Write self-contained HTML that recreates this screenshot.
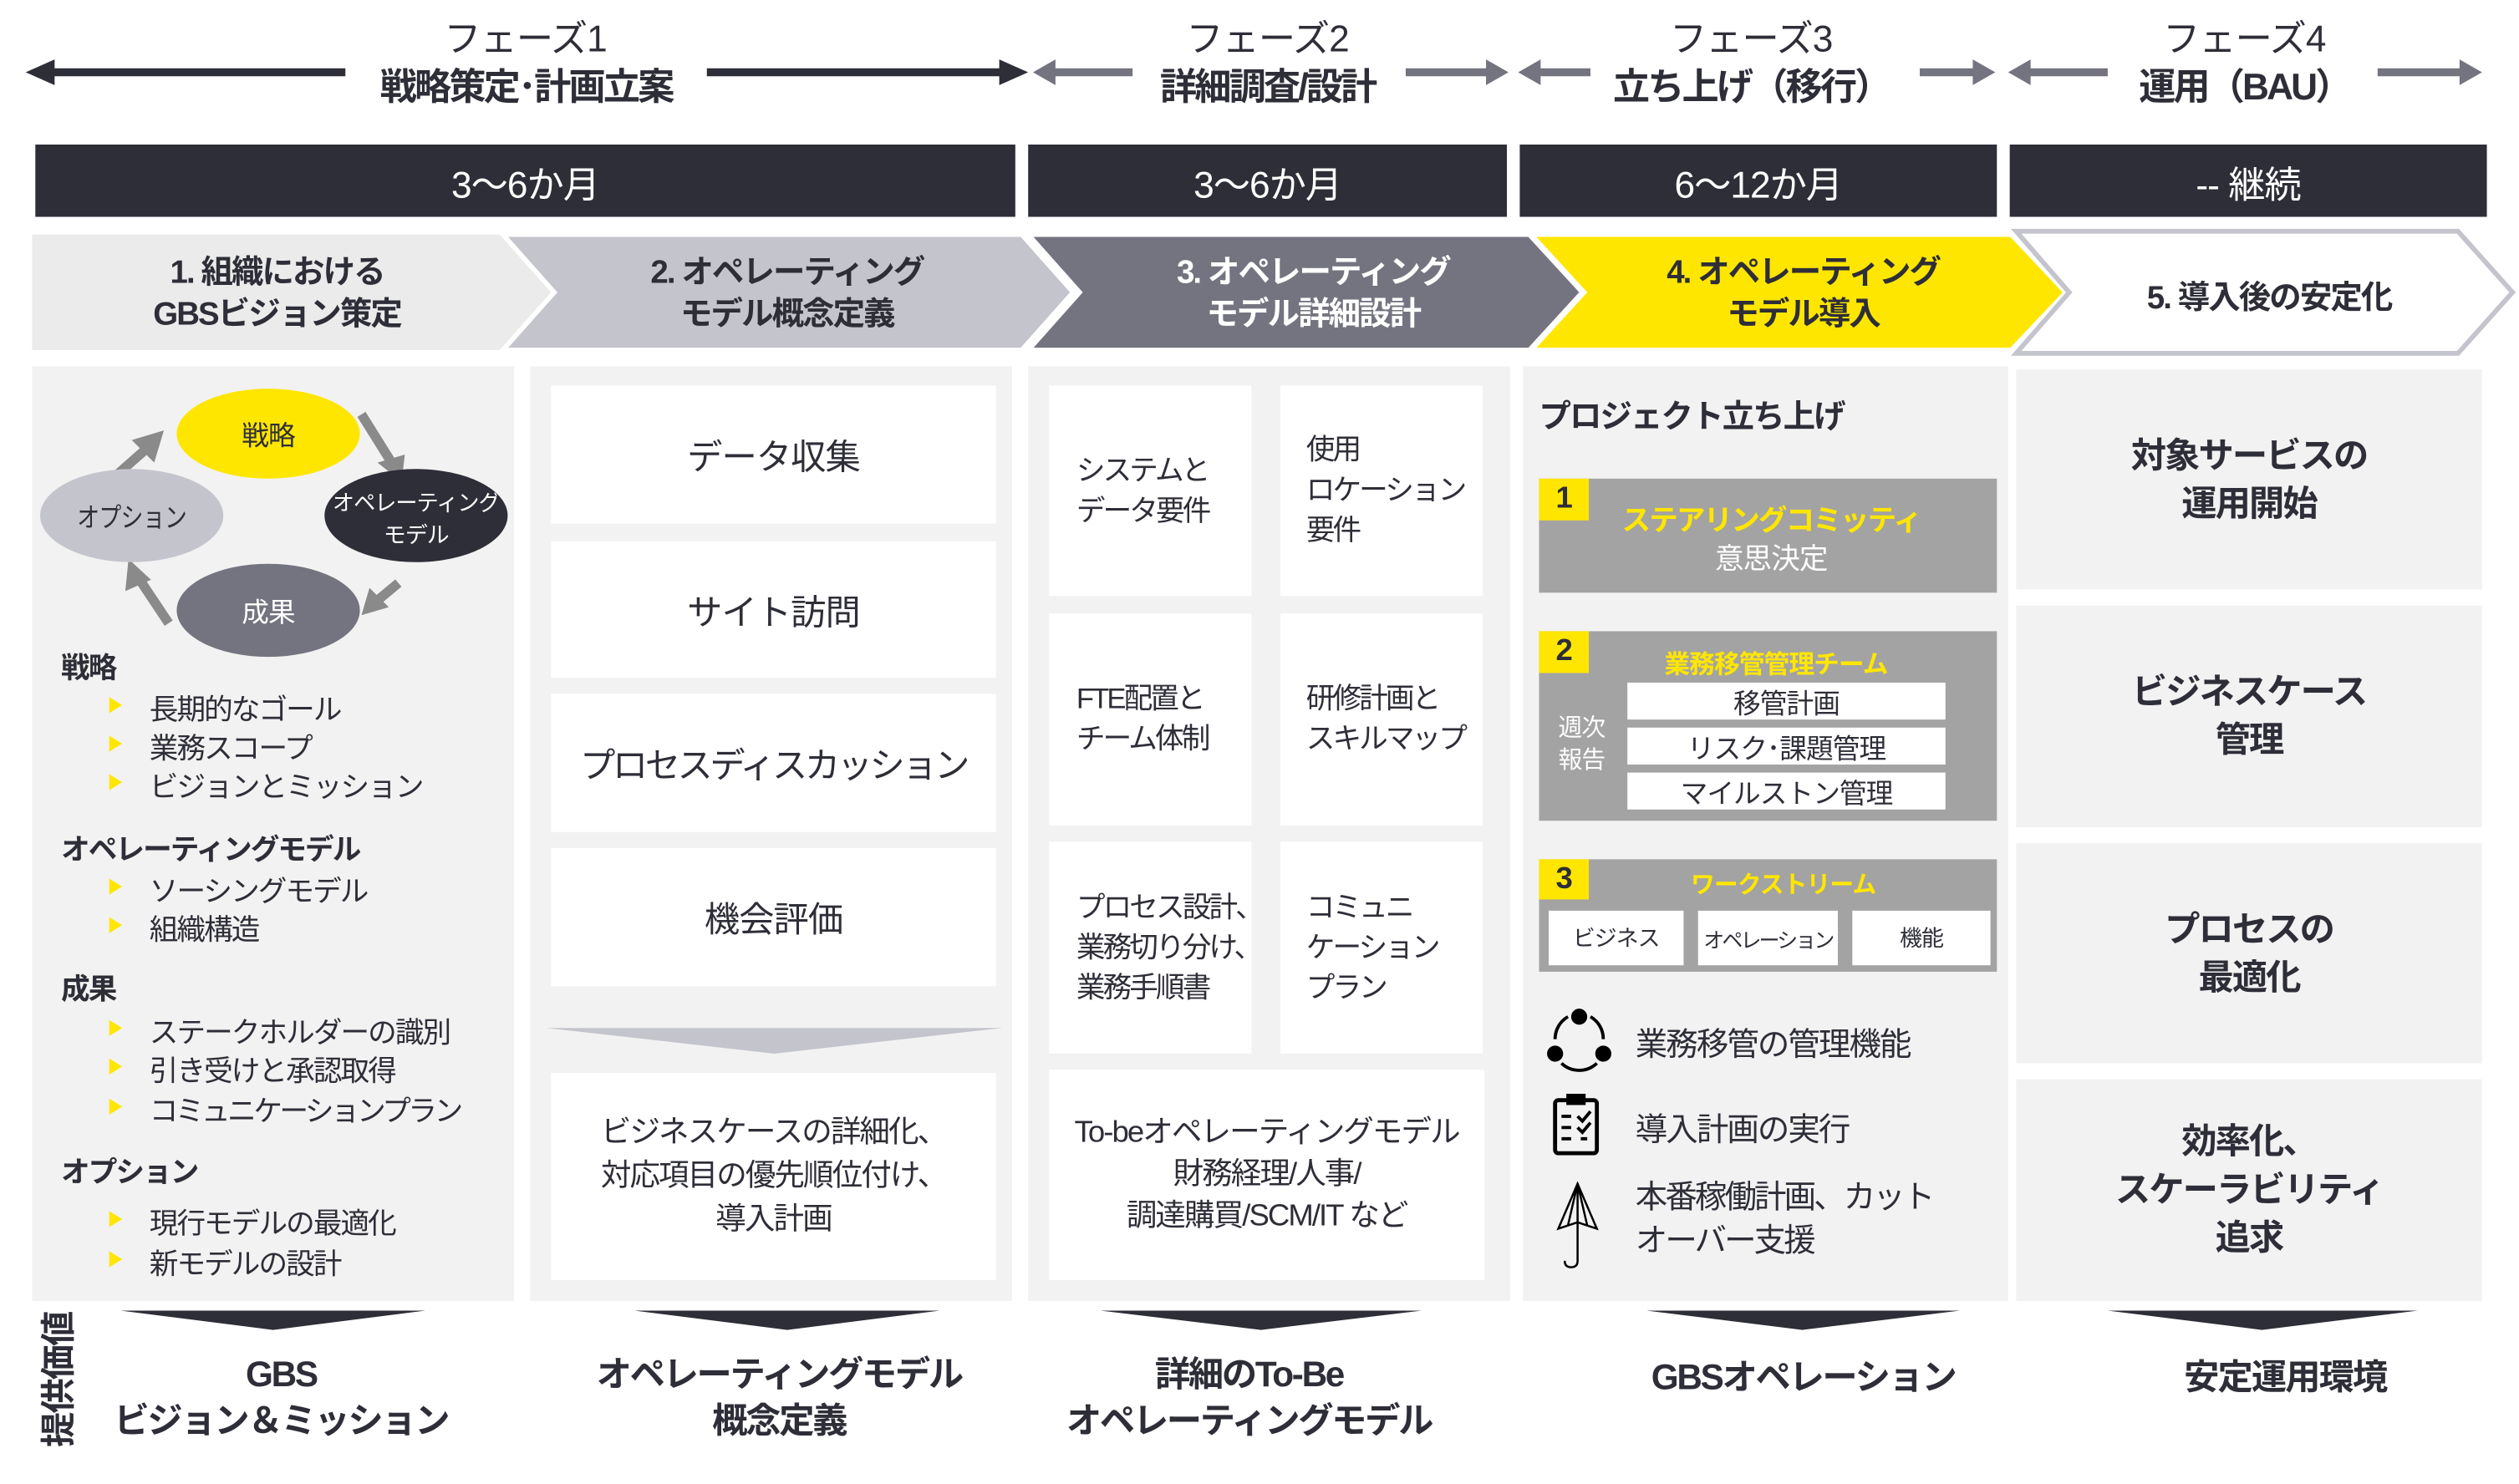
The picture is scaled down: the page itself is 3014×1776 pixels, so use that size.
<!DOCTYPE html>
<html><head><meta charset="utf-8"><style>
html,body{margin:0;padding:0;background:#fff;}
body{width:3014px;height:1775px;overflow:hidden;position:relative;}
#w{position:absolute;left:0;top:0;width:1568px;height:924px;transform:scale(1.92219);transform-origin:0 0;font-family:"Liberation Sans","Noto Sans CJK JP",sans-serif;color:#2e2e38;letter-spacing:-0.5px;}
.a{position:absolute;}
.c{position:absolute;display:flex;align-items:center;justify-content:center;text-align:center;}
.b{font-weight:bold;}
.bar{background:#2e2e38;color:#fff;font-size:23px;}
.p{background:#f2f2f2;}
.wb{background:#fff;}
.li{position:absolute;font-size:18px;white-space:nowrap;letter-spacing:-1px;}
.li:before{content:"";position:absolute;left:-25px;top:6px;border-left:8px solid #ffe600;border-top:5px solid transparent;border-bottom:5px solid transparent;}
.h{position:absolute;font-size:18px;font-weight:bold;letter-spacing:-1px;}
.t3{position:absolute;font-size:18px;line-height:25px;letter-spacing:-1.5px;white-space:nowrap;}
</style></head><body><div id="w">
<svg class="a" style="left:0;top:0" width="1568" height="924">
<line x1="28" y1="45" x2="215" y2="45" stroke="#2e2e38" stroke-width="5"/>
<path d="M16,45L34,37L34,53z" fill="#2e2e38"/>
<line x1="440" y1="45" x2="625" y2="45" stroke="#2e2e38" stroke-width="5"/>
<path d="M640,45L622,37L622,53z" fill="#2e2e38"/>
<g fill="#747480" stroke="#747480">
<line x1="655" y1="45" x2="705" y2="45" stroke-width="5"/><path d="M643,45L657,37L657,53z" stroke="none"/>
<line x1="875" y1="45" x2="927" y2="45" stroke-width="5"/><path d="M939,45L925,37L925,53z" stroke="none"/>
<line x1="958" y1="45" x2="990" y2="45" stroke-width="5"/><path d="M945,45L959,37L959,53z" stroke="none"/>
<line x1="1195" y1="45" x2="1230" y2="45" stroke-width="5"/><path d="M1242,45L1228,37L1228,53z" stroke="none"/>
<line x1="1263" y1="45" x2="1312" y2="45" stroke-width="5"/><path d="M1250,45L1264,37L1264,53z" stroke="none"/>
<line x1="1480" y1="45" x2="1533" y2="45" stroke-width="5"/><path d="M1545,45L1531,37L1531,53z" stroke="none"/>
</g>
<path d="M20,146L313,146L345,182L313,218L20,218z" fill="#ebebeb"/>
<path d="M313,146L636,146L668,182L636,218L313,218L345,182z" fill="#c4c4cd" stroke="#fff" stroke-width="3"/>
<path d="M640,146L952,146L985,182L952,218L640,218L672,182z" fill="#747480" stroke="#fff" stroke-width="3"/>
<path d="M953,146L1252,146L1286,182L1252,218L953,218L986,182z" fill="#ffe600" stroke="#fff" stroke-width="3"/>
<path d="M1255,144L1530,144L1564,182L1530,220L1255,220L1288,182z" fill="#fff" stroke="#c4c4cd" stroke-width="3"/>
</svg>
<div class="c" style="left:227px;top:8px;width:200px;height:28px;font-size:23px">フェーズ1</div>
<div class="c b" style="left:215px;top:36px;width:225px;height:32px;font-size:23px;letter-spacing:-1.5px">戦略策定･計画立案</div>
<div class="c" style="left:689px;top:8px;width:200px;height:28px;font-size:23px">フェーズ2</div>
<div class="c b" style="left:700px;top:36px;width:178px;height:32px;font-size:23px;letter-spacing:-1.5px">詳細調査/設計</div>
<div class="c" style="left:990px;top:8px;width:200px;height:28px;font-size:23px">フェーズ3</div>
<div class="c b" style="left:990px;top:36px;width:200px;height:32px;font-size:23px;letter-spacing:-1.5px">立ち上げ（移行）</div>
<div class="c" style="left:1297px;top:8px;width:200px;height:28px;font-size:23px">フェーズ4</div>
<div class="c b" style="left:1297px;top:36px;width:200px;height:32px;font-size:23px;letter-spacing:-1.5px">運用（BAU）</div>

<div class="c bar" style="left:22px;top:90px;width:610px;height:45px">3～6か月</div>
<div class="c bar" style="left:640px;top:90px;width:298px;height:45px">3～6か月</div>
<div class="c bar" style="left:946px;top:90px;width:297px;height:45px">6～12か月</div>
<div class="c bar" style="left:1251px;top:90px;width:297px;height:45px">-- 継続</div>

<div class="c b" style="left:20px;top:148px;width:305px;height:70px;font-size:20px;line-height:26px;letter-spacing:-1px">1. 組織における<br>GBSビジョン策定</div>
<div class="c b" style="left:340px;top:148px;width:300px;height:70px;font-size:20px;line-height:26px;letter-spacing:-1px">2. オペレーティング<br>モデル概念定義</div>
<div class="c b" style="left:665px;top:148px;width:305px;height:70px;font-size:20px;line-height:26px;color:#fff;letter-spacing:-1px">3. オペレーティング<br>モデル詳細設計</div>
<div class="c b" style="left:975px;top:148px;width:295px;height:70px;font-size:20px;line-height:26px;letter-spacing:-1px">4. オペレーティング<br>モデル導入</div>
<div class="c b" style="left:1280px;top:148px;width:265px;height:70px;font-size:20px;letter-spacing:-1px">5. 導入後の安定化</div>

<div class="a p" style="left:20px;top:228px;width:300px;height:582px"></div>
<div class="a p" style="left:330px;top:228px;width:300px;height:582px"></div>
<div class="a p" style="left:640px;top:228px;width:300px;height:582px"></div>
<div class="a p" style="left:948px;top:228px;width:302px;height:582px"></div>

<svg class="a" style="left:20px;top:228px" width="300" height="190">
<g stroke="#8a8a8a" stroke-width="6" fill="none">
<path d="M50,70 L75,48"/><path d="M205,30 L225,62"/><path d="M228,135 L210,150"/><path d="M85,160 L65,130"/>
</g>
<g fill="#8a8a8a">
<path d="M82,40 L62,46 L76,60z"/><path d="M230,72 L215,60 L232,55z"/><path d="M205,155 L210,138 L222,150z"/><path d="M60,120 L58,140 L74,133z"/>
</g>
<ellipse cx="147" cy="42" rx="57" ry="28" fill="#ffe600"/>
<ellipse cx="239" cy="93" rx="57" ry="29" fill="#2e2e38"/>
<ellipse cx="147" cy="152" rx="57" ry="29" fill="#747480"/>
<ellipse cx="62" cy="93" rx="57" ry="29" fill="#c4c4cd"/>
<g font-family="Liberation Sans,Noto Sans CJK JP,sans-serif" text-anchor="middle">
<text x="147" y="49" font-size="17" fill="#2e2e38">戦略</text>
<text x="239" y="90" font-size="14" fill="#fff" textLength="104" lengthAdjust="spacingAndGlyphs">オペレーティング</text>
<text x="239" y="110" font-size="14" fill="#fff">モデル</text>
<text x="147" y="159" font-size="17" fill="#fff">成果</text>
<text x="62" y="100" font-size="17" fill="#2e2e38" textLength="68" lengthAdjust="spacingAndGlyphs">オプション</text>
</g>
</svg>
<div class="h" style="left:38px;top:402px">戦略</div>
<div class="li" style="left:93px;top:428px">長期的なゴール</div>
<div class="li" style="left:93px;top:452px">業務スコープ</div>
<div class="li" style="left:93px;top:476px">ビジョンとミッション</div>
<div class="h" style="left:38px;top:515px">オペレーティングモデル</div>
<div class="li" style="left:93px;top:541px">ソーシングモデル</div>
<div class="li" style="left:93px;top:565px">組織構造</div>
<div class="h" style="left:38px;top:602px">成果</div>
<div class="li" style="left:93px;top:629px">ステークホルダーの識別</div>
<div class="li" style="left:93px;top:653px">引き受けと承認取得</div>
<div class="li" style="left:93px;top:678px;letter-spacing:-1.8px">コミュニケーションプラン</div>
<div class="h" style="left:38px;top:716px">オプション</div>
<div class="li" style="left:93px;top:748px">現行モデルの最適化</div>
<div class="li" style="left:93px;top:773px">新モデルの設計</div>

<div class="c wb" style="left:343px;top:240px;width:277px;height:86px;font-size:22px">データ収集</div>
<div class="c wb" style="left:343px;top:337px;width:277px;height:85px;font-size:22px">サイト訪問</div>
<div class="c wb" style="left:343px;top:432px;width:277px;height:86px;font-size:22px;letter-spacing:-1.8px">プロセスディスカッション</div>
<div class="c wb" style="left:343px;top:528px;width:277px;height:86px;font-size:22px">機会評価</div>
<svg class="a" style="left:340px;top:638px" width="285" height="22"><path d="M0,2L284,2L142,18z" fill="#c4c4cd"/></svg>
<div class="c wb" style="left:343px;top:668px;width:277px;height:129px;font-size:19px;line-height:27px;letter-spacing:-1px">ビジネスケースの詳細化、<br>対応項目の優先順位付け、<br>導入計画</div>

<div class="a wb" style="left:653px;top:240px;width:126px;height:131px"></div>
<div class="a wb" style="left:797px;top:240px;width:126px;height:131px"></div>
<div class="a wb" style="left:653px;top:382px;width:126px;height:132px"></div>
<div class="a wb" style="left:797px;top:382px;width:126px;height:132px"></div>
<div class="a wb" style="left:653px;top:524px;width:126px;height:132px"></div>
<div class="a wb" style="left:797px;top:524px;width:126px;height:132px"></div>
<div class="t3" style="left:670px;top:281px">システムと<br>データ要件</div>
<div class="t3" style="left:813px;top:268px">使用<br>ロケーション<br>要件</div>
<div class="t3" style="left:670px;top:423px">FTE配置と<br>チーム体制</div>
<div class="t3" style="left:813px;top:423px">研修計画と<br>スキルマップ</div>
<div class="t3" style="left:670px;top:553px">プロセス設計、<br>業務切り分け、<br>業務手順書</div>
<div class="t3" style="left:813px;top:553px">コミュニ<br>ケーション<br>プラン</div>
<div class="c wb" style="left:653px;top:666px;width:271px;height:131px;font-size:19px;line-height:26px;letter-spacing:-1px">To-beオペレーティングモデル<br>財務経理/人事/<br>調達購買/SCM/IT など</div>

<div class="a b" style="left:958px;top:243px;font-size:20px;letter-spacing:-1px">プロジェクト立ち上げ</div>
<div class="a" style="left:958px;top:298px;width:285px;height:71px;background:#a3a3a3"></div>
<div class="c b" style="left:958px;top:298px;width:31px;height:26px;background:#ffe600;font-size:19px">1</div>
<div class="c b" style="left:990px;top:310px;width:225px;height:26px;font-size:18px;color:#ffe600;letter-spacing:-1px">ステアリングコミッティ</div>
<div class="c" style="left:990px;top:335px;width:225px;height:24px;font-size:18px;color:#fff">意思決定</div>
<div class="a" style="left:958px;top:393px;width:285px;height:118px;background:#a3a3a3"></div>
<div class="c b" style="left:958px;top:393px;width:31px;height:26px;background:#ffe600;font-size:19px">2</div>
<div class="c b" style="left:1013px;top:400px;width:185px;height:24px;font-size:16px;color:#ffe600">業務移管管理チーム</div>
<div class="a" style="left:970px;top:444px;font-size:15px;line-height:20px;color:#fff">週次<br>報告</div>
<div class="c wb" style="left:1013px;top:425px;width:198px;height:23px;font-size:17px">移管計画</div>
<div class="c wb" style="left:1013px;top:453px;width:198px;height:23px;font-size:17px">リスク･課題管理</div>
<div class="c wb" style="left:1013px;top:481px;width:198px;height:23px;font-size:17px">マイルストン管理</div>
<div class="a" style="left:958px;top:535px;width:285px;height:70px;background:#a3a3a3"></div>
<div class="c b" style="left:958px;top:535px;width:31px;height:25px;background:#ffe600;font-size:19px">3</div>
<div class="c b" style="left:1010px;top:538px;width:200px;height:24px;font-size:15px;color:#ffe600">ワークストリーム</div>
<div class="c wb" style="left:964px;top:567px;width:84px;height:34px;font-size:14px">ビジネス</div>
<div class="c wb" style="left:1057px;top:567px;width:87px;height:34px;font-size:13px;white-space:nowrap;letter-spacing:-1.5px">オペレーション</div>
<div class="c wb" style="left:1153px;top:567px;width:86px;height:34px;font-size:14px">機能</div>
<svg class="a" style="left:960px;top:625px" width="45" height="165" fill="none" stroke="#000" stroke-width="2">
<path d="M8,22 A16,16 0 0 1 16,8"/><path d="M30,8 A16,16 0 0 1 38,22"/><path d="M12,37 A16,16 0 0 0 34,37"/>
<circle cx="23" cy="8" r="4" fill="#000"/><circle cx="8" cy="31" r="4" fill="#000"/><circle cx="38" cy="31" r="4" fill="#000"/>
<rect x="8" y="60" width="26" height="33" rx="2" stroke-width="2.5"/><rect x="16" y="57" width="10" height="5" fill="#000"/>
<path d="M12,70h6M12,77h6M12,84h6M22,70l3,3 5,-6M22,77l3,3 5,-6M24,84h4"/>
<path d="M22,112 L10,140 L22,136 L34,140z" stroke-width="1.3"/><path d="M22,112 L16,138 M22,112 L28,138 M22,112 V160 q0,4 -4,4 q-4,0 -4,-4" stroke-width="1.3"/>
</svg>
<div class="a" style="left:1018px;top:634px;font-size:20px;letter-spacing:-1px">業務移管の管理機能</div>
<div class="a" style="left:1018px;top:687px;font-size:20px;letter-spacing:-1px">導入計画の実行</div>
<div class="a" style="left:1018px;top:733px;font-size:20px;line-height:27px;letter-spacing:-1.5px;white-space:nowrap">本番稼働計画、カット<br>オーバー支援</div>

<div class="c b p" style="left:1255px;top:230px;width:290px;height:137px;font-size:22px;line-height:30px;letter-spacing:-1px">対象サービスの<br>運用開始</div>
<div class="c b p" style="left:1255px;top:377px;width:290px;height:138px;font-size:22px;line-height:30px;letter-spacing:-1px">ビジネスケース<br>管理</div>
<div class="c b p" style="left:1255px;top:525px;width:290px;height:137px;font-size:22px;line-height:30px;letter-spacing:-1px">プロセスの<br>最適化</div>
<div class="c b p" style="left:1255px;top:672px;width:290px;height:138px;font-size:22px;line-height:30px;letter-spacing:-1px">効率化、<br>スケーラビリティ<br>追求</div>

<svg class="a" style="left:0;top:814px" width="1568" height="16" fill="#2e2e38">
<path d="M75,2L265,2L170,14z"/><path d="M395,2L585,2L490,14z"/><path d="M685,2L885,2L785,14z"/><path d="M1025,2L1220,2L1122,14z"/><path d="M1312,2L1505,2L1408,14z"/>
</svg>
<div class="c b" style="left:-13px;top:846px;width:96px;height:26px;font-size:22px;letter-spacing:-1px;transform:rotate(-90deg)">提供価値</div>
<div class="c b" style="left:55px;top:840px;width:240px;height:60px;font-size:22px;line-height:29px;letter-spacing:-1.2px">GBS<br>ビジョン＆ミッション</div>
<div class="c b" style="left:355px;top:840px;width:260px;height:60px;font-size:22px;line-height:29px;letter-spacing:-1.2px">オペレーティングモデル<br>概念定義</div>
<div class="c b" style="left:650px;top:840px;width:255px;height:60px;font-size:22px;line-height:29px;letter-spacing:-1.2px">詳細のTo-Be<br>オペレーティングモデル</div>
<div class="c b" style="left:995px;top:840px;width:255px;height:32px;font-size:22px;letter-spacing:-1.2px">GBSオペレーション</div>
<div class="c b" style="left:1300px;top:840px;width:245px;height:32px;font-size:22px;letter-spacing:-1px">安定運用環境</div>
</div></body></html>
